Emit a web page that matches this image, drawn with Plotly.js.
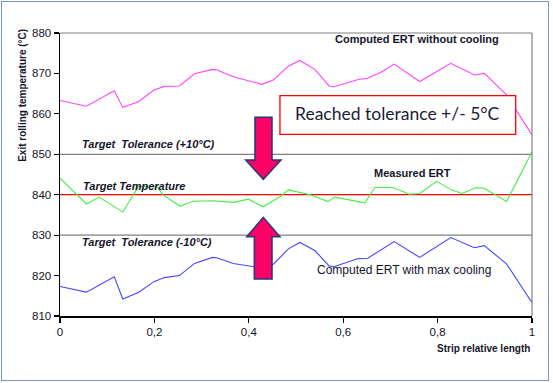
<!DOCTYPE html>
<html>
<head>
<meta charset="utf-8">
<script src="https://cdn.plot.ly/plotly-3.0.1.min.js"></script>
<style>
  html, body { margin: 0; padding: 0; background: #ffffff; }
  #wrap { position: relative; width: 553px; height: 383px; }
  #chart { position: absolute; left: 0; top: 0; width: 553px; height: 383px; }
  #frame { position: absolute; left: 1px; top: 1px; width: 546px; height: 378px;
           border: 1.5px solid #7393c4; pointer-events: none; }
</style>
</head>
<body>
<div id="wrap">
  <div id="chart"></div>
  <div id="frame"></div>
</div>
<script>
// ---- data ----
const xComputed = [0, 0.056, 0.115, 0.133, 0.166, 0.199, 0.221, 0.253, 0.285, 0.323, 0.332, 0.367,
                   0.428, 0.452, 0.484, 0.508, 0.540, 0.570, 0.580, 0.632, 0.652, 0.680, 0.708,
                   0.762, 0.828, 0.878, 0.899, 0.946, 1.0];
const noCooling = [863.3, 861.9, 865.7, 861.6, 863.0, 865.9, 866.8, 866.9, 869.9, 871.0, 870.9, 869.2,
                   867.3, 868.4, 871.8, 873.2, 871.0, 866.9, 866.7, 868.5, 868.8, 870.3, 872.3,
                   868.0, 872.5, 869.6, 870.0, 864.7, 854.8];
const maxCooling = [817.3, 815.9, 819.7, 814.2, 815.8, 818.5, 819.5, 820.0, 823.0, 824.5, 824.4, 823.0,
                    821.9, 822.8, 826.6, 828.2, 826.2, 822.4, 822.2, 824.2, 824.3, 826.3, 828.4,
                    824.5, 829.4, 826.9, 827.4, 822.9, 813.3];
const xMeasured = [0, 0.056, 0.083, 0.133, 0.166, 0.205, 0.219, 0.254, 0.282, 0.325, 0.367, 0.399,
                   0.430, 0.466, 0.484, 0.530, 0.568, 0.582, 0.646, 0.667, 0.705, 0.740, 0.762,
                   0.798, 0.829, 0.852, 0.880, 0.899, 0.946, 1.0];
const measured = [844.1, 837.7, 839.4, 835.7, 842.0, 842.0, 839.9, 837.2, 838.4, 838.5, 838.1, 838.9,
                  837.0, 839.5, 841.2, 840.0, 838.3, 839.4, 838.0, 841.8, 841.8, 840.1, 840.3,
                  843.3, 841.2, 840.3, 841.7, 841.6, 838.3, 850.6];
const targetTemp = 840;
const tolUpper = 850;
const tolLower = 830;
const xTickVals = [0, 0.2, 0.4, 0.6, 0.8, 1];
const xTickText = ["0", "0,2", "0,4", "0,6", "0,8", "1"];
const yTickVals = [810, 820, 830, 840, 850, 860, 870, 880];

const FONT = "Liberation Sans, Arial, sans-serif";
const TXT = "#14142a";

const traces = [
  {x: xComputed, y: noCooling, mode: "lines", line: {color: "#ff44ff", width: 1.1}, hoverinfo: "skip"},
  {x: xMeasured, y: measured, mode: "lines", line: {color: "#44ee44", width: 1.1}, hoverinfo: "skip"},
  {x: xComputed, y: maxCooling, mode: "lines", line: {color: "#4646ff", width: 1.1}, hoverinfo: "skip"}
];

function hline(v, color) {
  return {type: "line", xref: "paper", x0: 0, x1: 1, yref: "y", y0: v, y1: v,
          line: {color: color, width: 1.2}, layer: "below"};
}
const arrowStyle = {fillcolor: "#ff0066", line: {color: "#1f3a7a", width: 1.5}, xref: "paper", yref: "paper", layer: "above"};

const shapes = [
  hline(tolUpper, "#808080"),
  hline(tolLower, "#808080"),
  hline(targetTemp, "#ff0000"),
  // top & right plot border (gray)
  {type: "line", xref: "paper", yref: "paper", x0: 0, x1: 1, y0: 1, y1: 1, line: {color: "#808080", width: 1.2}},
  {type: "line", xref: "paper", yref: "paper", x0: 1, x1: 1, y0: 0, y1: 1, line: {color: "#808080", width: 1.2}},
  // tolerance box
  {type: "rect", xref: "paper", yref: "paper", x0: 0.466, x1: 0.9655, y0: 0.642, y1: 0.7784,
   fillcolor: "#ffffff", line: {color: "#ff0000", width: 1.3}},
  // down arrow
  Object.assign({type: "path",
    path: "M 0.4131,0.7021 L 0.4492,0.7021 L 0.4492,0.5512 L 0.4682,0.5512 L 0.4307,0.4830 L 0.3934,0.5512 L 0.4131,0.5512 Z"}, arrowStyle),
  // up arrow
  Object.assign({type: "path",
    path: "M 0.4117,0.1307 L 0.4492,0.1307 L 0.4492,0.2802 L 0.4661,0.2802 L 0.4307,0.3488 L 0.3956,0.2802 L 0.4117,0.2802 Z"}, arrowStyle)
];

function ann(text, x, y, size, opts) {
  return Object.assign({text: text, x: x, y: y, xref: "paper", yref: "paper", showarrow: false,
    font: {family: FONT, size: size, color: TXT}}, opts || {});
}
const annotations = [
  ann("<b>Computed ERT without cooling</b>", 0.7564, 0.9788, 11, {xanchor: "center", yanchor: "middle"}),
  ann("Reached tolerance +/- 5°C", 0.7157, 0.7138, 17.5, {xanchor: "center", yanchor: "middle",
      font: {family: "Lato, Open Sans, sans-serif", size: 17.5, color: "#1c1c38"}}),
  ann("<b><i>Target  Tolerance (+10°C)</i></b>", 0.0424, 0.6078, 11, {xanchor: "left", yanchor: "middle"}),
  ann("<b><i>Target Temperature</i></b>", 0.0445, 0.4594, 11, {xanchor: "left", yanchor: "middle"}),
  ann("<b>Measured ERT</b>", 0.7458, 0.5053, 11, {xanchor: "center", yanchor: "middle"}),
  ann("<b><i>Target  Tolerance (-10°C)</i></b>", 0.0424, 0.2615, 11, {xanchor: "left", yanchor: "middle"}),
  ann("Computed ERT with max cooling", 0.7285, 0.1625, 12, {xanchor: "center", yanchor: "middle"}),
  ann("<b>Strip relative length</b>", 1.0, -0.1141, 10, {xanchor: "right", yanchor: "middle"}),
  ann("<b>Exit rolling temperature (°C)</b>", -0.0794, 1.022, 10, {xanchor: "center", yanchor: "top", textangle: -90})
];

const layout = {
  width: 553, height: 383,
  margin: {l: 60, r: 21, t: 33, b: 67},
  paper_bgcolor: "#ffffff", plot_bgcolor: "#ffffff",
  showlegend: false,
  xaxis: {range: [0, 1], tickvals: xTickVals, ticktext: xTickText, showgrid: false, zeroline: false,
          showline: true, linecolor: "#000000", linewidth: 1.5, ticks: "outside", ticklen: 5, tickwidth: 1.2,
          tickcolor: "#000000", tickfont: {family: FONT, size: 11.5, color: TXT}},
  yaxis: {range: [810, 880], tickvals: yTickVals, showgrid: false, zeroline: false,
          showline: true, linecolor: "#000000", linewidth: 1.5, ticks: "outside", ticklen: 5, tickwidth: 1.2,
          tickcolor: "#000000", tickfont: {family: FONT, size: 11.5, color: TXT}},
  shapes: shapes,
  annotations: annotations
};

Plotly.newPlot("chart", traces, layout, {displayModeBar: false, staticPlot: true});
</script>
</body>
</html>
